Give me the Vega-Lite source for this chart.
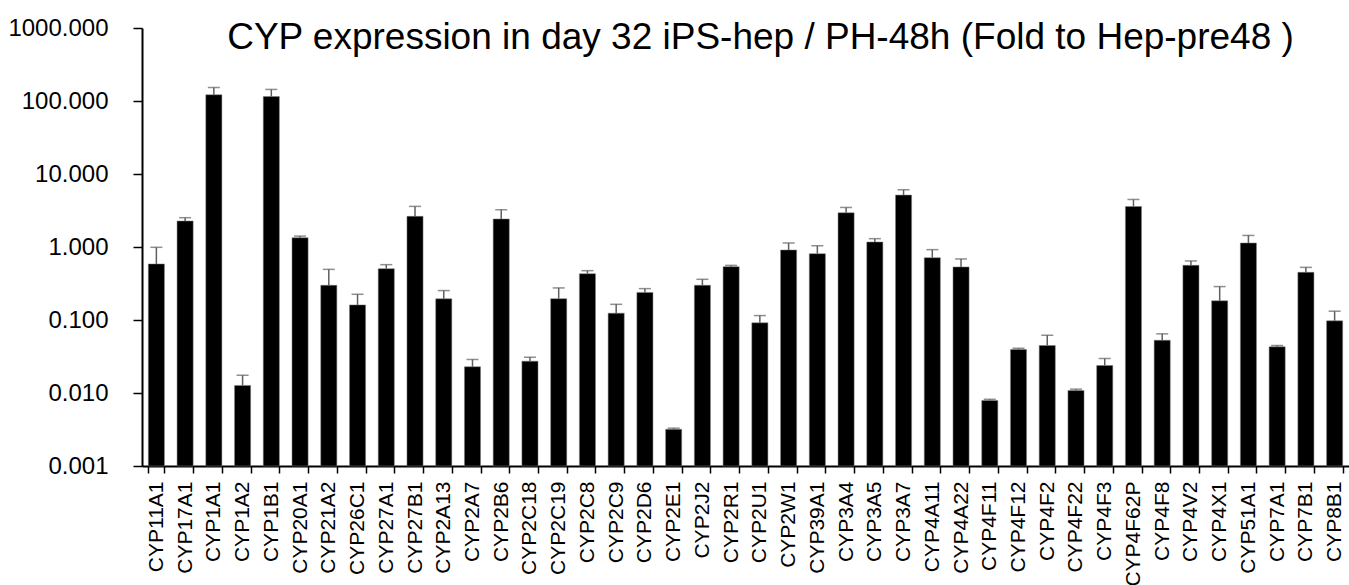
{
  "$schema": "https://vega.github.io/schema/vega-lite/v6.json",
  "autosize": {"type": "none"},
  "padding": {"left": 142, "top": 28, "right": 0, "bottom": 119},
  "width": 1207,
  "height": 438,
  "background": "white",
  "config": {
    "view": {"stroke": null},
    "font": "Liberation Sans",
    "axis": {"labelFont": "Liberation Sans", "labelColor": "#000000", "domainColor": "#000000", "tickColor": "#000000", "grid": false}
  },
  "title": {
    "text": "CYP expression in day 32 iPS-hep / PH-48h (Fold to Hep-pre48 )",
    "font": "Liberation Sans",
    "fontSize": 37,
    "fontWeight": "normal",
    "color": "#000000",
    "anchor": "middle",
    "frame": "group",
    "dx": 15,
    "offset": -70,
    "baseline": "alphabetic"
  },
  "data": {
    "values": [
      {"gene": "CYP11A1", "value": 0.586, "upper": 0.99},
      {"gene": "CYP17A1", "value": 2.27, "upper": 2.52},
      {"gene": "CYP1A1", "value": 121.6, "upper": 153},
      {"gene": "CYP1A2", "value": 0.0127, "upper": 0.0175},
      {"gene": "CYP1B1", "value": 115, "upper": 144},
      {"gene": "CYP20A1", "value": 1.34, "upper": 1.41},
      {"gene": "CYP21A2", "value": 0.299, "upper": 0.494},
      {"gene": "CYP26C1", "value": 0.161, "upper": 0.225},
      {"gene": "CYP27A1", "value": 0.505, "upper": 0.573},
      {"gene": "CYP27B1", "value": 2.63, "upper": 3.6},
      {"gene": "CYP2A13", "value": 0.195, "upper": 0.253},
      {"gene": "CYP2A7", "value": 0.0229, "upper": 0.0288},
      {"gene": "CYP2B6", "value": 2.42, "upper": 3.24},
      {"gene": "CYP2C18", "value": 0.0273, "upper": 0.0309},
      {"gene": "CYP2C19", "value": 0.196, "upper": 0.275},
      {"gene": "CYP2C8", "value": 0.431, "upper": 0.474},
      {"gene": "CYP2C9", "value": 0.124, "upper": 0.164},
      {"gene": "CYP2D6", "value": 0.239, "upper": 0.269},
      {"gene": "CYP2E1", "value": 0.00318, "upper": 0.0033},
      {"gene": "CYP2J2", "value": 0.299, "upper": 0.361},
      {"gene": "CYP2R1", "value": 0.538, "upper": 0.56},
      {"gene": "CYP2U1", "value": 0.0914, "upper": 0.115},
      {"gene": "CYP2W1", "value": 0.91, "upper": 1.135},
      {"gene": "CYP39A1", "value": 0.81, "upper": 1.04},
      {"gene": "CYP3A4", "value": 2.94, "upper": 3.48},
      {"gene": "CYP3A5", "value": 1.17, "upper": 1.3},
      {"gene": "CYP3A7", "value": 5.14, "upper": 6.08},
      {"gene": "CYP4A11", "value": 0.714, "upper": 0.92},
      {"gene": "CYP4A22", "value": 0.533, "upper": 0.686},
      {"gene": "CYP4F11", "value": 0.0079, "upper": 0.0082},
      {"gene": "CYP4F12", "value": 0.0394, "upper": 0.041},
      {"gene": "CYP4F2", "value": 0.0447, "upper": 0.0618},
      {"gene": "CYP4F22", "value": 0.0108, "upper": 0.0113},
      {"gene": "CYP4F3", "value": 0.0238, "upper": 0.0297},
      {"gene": "CYP4F62P", "value": 3.59, "upper": 4.48},
      {"gene": "CYP4F8", "value": 0.0528, "upper": 0.0646},
      {"gene": "CYP4V2", "value": 0.561, "upper": 0.644},
      {"gene": "CYP4X1", "value": 0.183, "upper": 0.287},
      {"gene": "CYP51A1", "value": 1.135, "upper": 1.44},
      {"gene": "CYP7A1", "value": 0.0429, "upper": 0.0447},
      {"gene": "CYP7B1", "value": 0.45, "upper": 0.526},
      {"gene": "CYP8B1", "value": 0.0973, "upper": 0.132}
    ]
  },
  "encoding": {
    "x": {
      "field": "gene",
      "type": "nominal",
      "sort": null,
      "scale": {"paddingInner": 0.44, "paddingOuter": 0.22},
      "axis": {
        "title": null,
        "labelAngle": -90,
        "labelFontSize": 21,
        "labelPadding": 8,
        "tickBand": "extent",
        "tickSize": 7,
        "tickWidth": 1.5,
        "domainWidth": 2,
        "labelOverlap": false
      }
    }
  },
  "layer": [
    {
      "mark": {"type": "bar", "color": "#000000", "stroke": "#7f7f7f", "strokeWidth": 0.5},
      "encoding": {
        "y": {
          "field": "value",
          "type": "quantitative",
          "scale": {"type": "log", "domain": [0.001, 1000], "nice": false},
          "axis": {
            "title": null,
            "values": [0.001, 0.01, 0.1, 1, 10, 100, 1000],
            "format": ".3f",
            "labelFontSize": 24,
            "labelPadding": 25,
            "tickSize": 9,
            "tickWidth": 1.5,
            "domainWidth": 2
          }
        },
        "y2": {"datum": 0.001}
      }
    },
    {
      "mark": {"type": "rule", "color": "#5f5f5f", "strokeWidth": 1.5},
      "encoding": {
        "y": {"field": "value", "type": "quantitative"},
        "y2": {"field": "upper"}
      }
    },
    {
      "mark": {"type": "tick", "color": "#5f5f5f", "thickness": 1.5, "size": 12, "orient": "horizontal"},
      "encoding": {
        "y": {"field": "upper", "type": "quantitative"}
      }
    }
  ]
}
